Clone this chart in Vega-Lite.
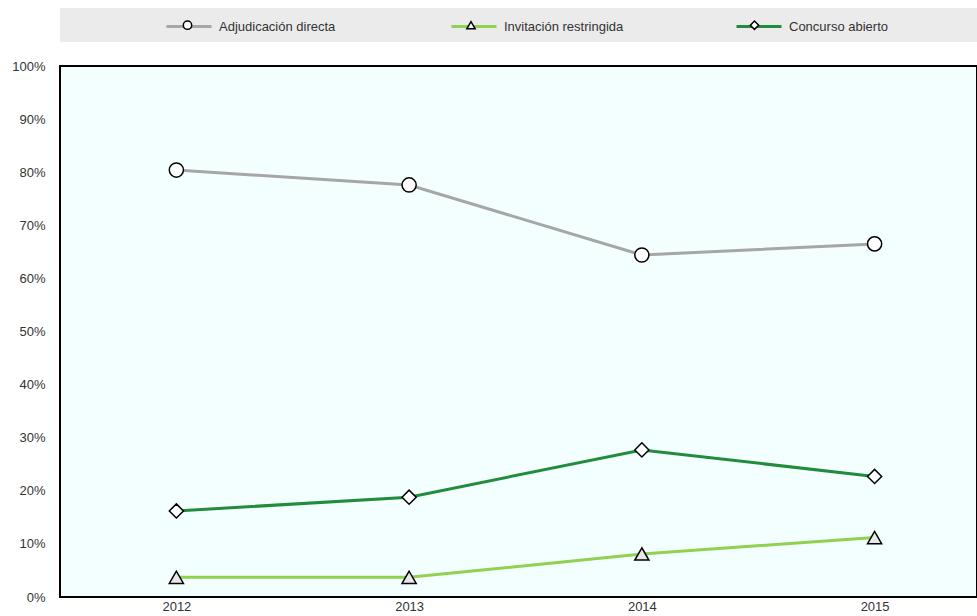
{
  "$schema": "https://vega.github.io/schema/vega-lite/v6.json",
  "width": 917,
  "height": 531,
  "autosize": {"type": "none"},
  "padding": {"left": 60, "top": 66, "right": 0, "bottom": 19},
  "background": "white",
  "config": {
    "font": "Liberation Sans, Arial, sans-serif",
    "view": {"fill": "#f3ffff", "stroke": "#000000", "strokeWidth": 2}
  },
  "data": {
    "values": [
      {"anio": 2012, "serie": "Adjudicación directa", "valor": 80.4},
      {"anio": 2013, "serie": "Adjudicación directa", "valor": 77.6},
      {"anio": 2014, "serie": "Adjudicación directa", "valor": 64.4},
      {"anio": 2015, "serie": "Adjudicación directa", "valor": 66.5},
      {"anio": 2012, "serie": "Invitación restringida", "valor": 3.7},
      {"anio": 2013, "serie": "Invitación restringida", "valor": 3.7},
      {"anio": 2014, "serie": "Invitación restringida", "valor": 8.1},
      {"anio": 2015, "serie": "Invitación restringida", "valor": 11.2},
      {"anio": 2012, "serie": "Concurso abierto", "valor": 16.2},
      {"anio": 2013, "serie": "Concurso abierto", "valor": 18.8},
      {"anio": 2014, "serie": "Concurso abierto", "valor": 27.7},
      {"anio": 2015, "serie": "Concurso abierto", "valor": 22.7}
    ]
  },
  "layer": [
    {
      "data": {"values": [{}]},
      "mark": {"type": "rect", "fill": "#ebebeb", "clip": false},
      "encoding": {
        "x": {"datum": 2011.5, "type": "quantitative", "scale": {"domain": [2011.5, 2015.44], "nice": false, "zero": false}},
        "x2": {"datum": 2015.44},
        "y": {"datum": 110.9, "type": "quantitative", "scale": {"domain": [0, 100], "nice": false}},
        "y2": {"datum": 104.5}
      }
    },
    {
      "mark": {"type": "line", "strokeWidth": 3},
      "encoding": {
        "x": {
          "field": "anio", "type": "quantitative",
          "scale": {"domain": [2011.5, 2015.44], "nice": false, "zero": false},
          "axis": {
            "values": [2012, 2013, 2014, 2015], "format": "d", "title": null,
            "grid": false, "ticks": false, "domain": false,
            "labelFontSize": 13, "labelColor": "#333333", "labelPadding": 3
          }
        },
        "y": {
          "field": "valor", "type": "quantitative",
          "scale": {"domain": [0, 100], "nice": false},
          "axis": {
            "values": [0, 10, 20, 30, 40, 50, 60, 70, 80, 90, 100],
            "labelExpr": "datum.value + '%'", "title": null,
            "ticks": false, "domain": false, "gridColor": "#d9d9d9", "gridWidth": 1.5,
            "labelFontSize": 13, "labelColor": "#333333", "labelPadding": 15
          }
        },
        "color": {
          "field": "serie", "type": "nominal",
          "scale": {
            "domain": ["Adjudicación directa", "Invitación restringida", "Concurso abierto"],
            "range": ["#a6a6a6", "#92d050", "#218c3b"]
          },
          "legend": {
            "orient": "none", "legendX": 105, "legendY": -63.5,
            "direction": "horizontal", "columns": 3, "gridAlign": "all",
            "title": null, "symbolType": "stroke", "symbolSize": 2025,
            "symbolStrokeWidth": 3, "labelFontSize": 13, "labelColor": "#333333",
            "labelOffset": 6, "columnPadding": 106, "padding": 0
          }
        }
      }
    },
    {
      "mark": {"type": "point", "filled": true, "stroke": "#000000", "strokeWidth": 1.5, "size": 200, "opacity": 1},
      "encoding": {
        "x": {"field": "anio", "type": "quantitative"},
        "y": {"field": "valor", "type": "quantitative"},
        "shape": {
          "field": "serie", "type": "nominal",
          "sort": ["Adjudicación directa", "Invitación restringida", "Concurso abierto"],
          "scale": {"range": ["circle", "triangle-up", "diamond"]},
          "legend": {
            "orient": "none", "legendX": 121, "legendY": -47.5,
            "direction": "horizontal", "columns": 3, "gridAlign": "all",
            "title": null, "symbolSize": 70,
            "symbolStrokeWidth": 1.5, "symbolStrokeColor": "#000000", "symbolFillColor": "#ffffff",
            "labelFontSize": 13, "labelExpr": "''",
            "labelOffset": 1, "columnPadding": 268.5, "padding": 0
          }
        },
        "fill": {
          "field": "serie", "type": "nominal",
          "scale": {
            "domain": ["Adjudicación directa", "Invitación restringida", "Concurso abierto"],
            "range": ["#ffffff", "#e8e8e8", "#ffffff"]
          },
          "legend": null
        }
      }
    }
  ]
}
